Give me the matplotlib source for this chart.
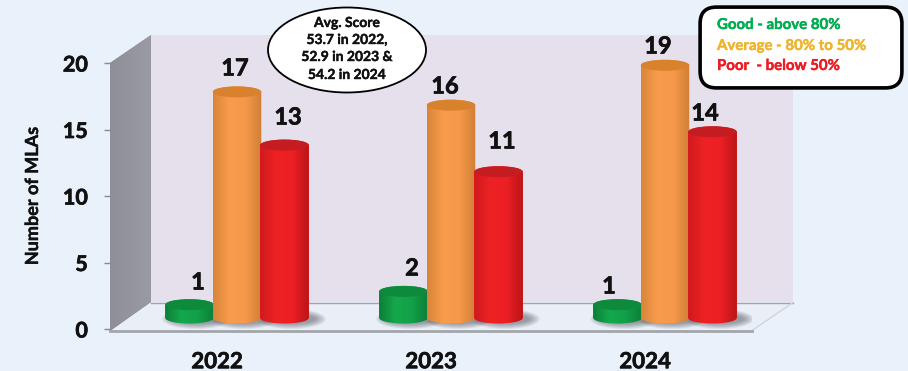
import matplotlib
matplotlib.use('Agg')
import matplotlib.pyplot as plt
import matplotlib.patheffects as pe
import numpy as np
from matplotlib.patches import Ellipse, FancyBboxPatch, Polygon, PathPatch
from matplotlib.path import Path
from matplotlib.colors import LinearSegmentedColormap

years = ['2022', '2023', '2024']
good = [1, 2, 1]
average = [17, 16, 19]
poor = [13, 11, 14]
y_ticks = [0, 5, 10, 15, 20]
note_lines = ['Avg. Score', '53.7 in 2022,', '52.9 in 2023 &', '54.2 in 2024']
legend_lines = ['Good - above 80%', 'Average - 80% to 50%', 'Poor  - below 50%']

plt.rcParams['font.family'] = ['Lato', 'DejaVu Sans']
plt.rcParams['font.weight'] = 'bold'

W, H = 908, 371
BG = '#e9f1fb'
fig = plt.figure(figsize=(W / 100, H / 100), dpi=100, facecolor=BG)
# front plane of the fake 3d box: 110-752 px wide, zero at y=329, twenty at y=63
ax = fig.add_axes([110 / W, (H - 329) / H, 642 / W, 266 / H])
ax.patch.set_alpha(0)
UX, UY = 214.0, 13.3


def px(x, y):
    return (x - 217) / UX, (329 - y) / UY


def poly(points, **kw):
    p = Polygon([px(*q) for q in points], closed=True, clip_on=False, lw=0, **kw)
    ax.add_patch(p)
    return p


def gradient(patch, colors, extent, z):
    cmap = LinearSegmentedColormap.from_list('c', colors)
    im = ax.imshow(np.linspace(0, 1, 64).reshape(1, -1), cmap=cmap, extent=extent,
                   aspect='auto', zorder=z, interpolation='bilinear')
    im.set_clip_path(patch)
    im.set_clip_box(fig.bbox)
    return im


def thick(t, width=0.5):
    # lato bold is lighter than the font in the picture
    t.set_path_effects([pe.withStroke(linewidth=width, foreground=t.get_color())])
    return t


# walls and floor
poly([(151, 35), (793, 35), (793, 302), (151, 302)], color='#e6dfec', zorder=1)
wall = poly([(110, 63), (151, 35), (151, 302), (110, 331)], color='#98989f', zorder=1)
x0, y0 = px(110, 331)
x1, y1 = px(151, 35)
gradient(wall, ['#8f8f98', '#9a9aa2'], (x0, x1, y0, y1), 1.1)
poly([(115, 329), (152, 303), (793, 303), (752, 329)], color='#e9eff6', zorder=1.2)
ax.plot(*zip(px(151, 302.5), px(793, 302.5)), color='#a89fa8', lw=1, zorder=1.3, clip_on=False)
ax.plot(*zip(px(752, 330.5), px(793, 302.5)), color='#d0d4da', lw=1, zorder=1.3, clip_on=False)
ax.plot(*zip(px(110, 330.5), px(752, 330.5)), color='#a3a5aa', lw=2, zorder=1.3, clip_on=False)

DX = 20 / UX  # bars sit back from the tick position
BASE = (329 - 318) / UY
BAR_W = 48.5 / UX
CAP_H = 11 / UY
series = [
    (good, -47.5 / UX, ['#0c7f38', '#14a84c', '#12a048', '#0c7f38'], '#0e8a3d'),
    (average, 0, ['#d8853a', '#f99c4c', '#f7984a', '#cf7f35'], '#d9822e'),
    (poor, 47.5 / UX, ['#d01a1e', '#ee2224', '#ec1f24', '#bb1519'], '#c41c20'),
]
pos = np.arange(len(years))
z = 3
for vals, shift, shades, cap in series:
    bars = ax.bar(pos + DX + shift, vals, BAR_W, bottom=BASE, color=shades[1], zorder=z, clip_on=False)
    for b in bars:
        left, right = b.get_x(), b.get_x() + b.get_width()
        cx = (left + right) / 2
        top = b.get_y() + b.get_height()
        # soft shadow on the floor
        for k in range(10):
            ax.add_patch(Ellipse((cx + 7 / UX, BASE - 1 / UY), BAR_W * (1.42 - k * 0.05), (20 - k * 1.2) / UY,
                                 color='#555560', alpha=0.07, lw=0, zorder=2))
        t = np.linspace(np.pi, 2 * np.pi, 40)
        low = np.c_[cx + BAR_W / 2 * np.cos(t), BASE + CAP_H / 2 * np.sin(t)]
        up = np.c_[cx - BAR_W / 2 * np.cos(t), top - CAP_H / 2 * np.sin(t)]
        verts = np.vstack([low, up, low[:1]])
        codes = [Path.MOVETO] + [Path.LINETO] * (len(verts) - 2) + [Path.CLOSEPOLY]
        body = PathPatch(Path(verts, codes), fc='none', ec='none', zorder=z + 0.1, clip_on=False)
        ax.add_patch(body)
        gradient(body, shades, (left, right, BASE - CAP_H, top + CAP_H), z + 0.1)
        ax.add_patch(Ellipse((cx, top), BAR_W, CAP_H, color=cap, lw=0, zorder=z + 0.2, clip_on=False))
    z += 1

# data labels, nudged by hand as in the original
label_xy = [(198, 282), (235, 68), (288, 117), (412, 268), (445, 86), (502, 141), (609, 286), (658, 46), (705, 113)]
all_vals = [good[0], average[0], poor[0], good[1], average[1], poor[1], good[2], average[2], poor[2]]
for v, (lx, ly) in zip(all_vals, label_xy):
    thick(ax.text(*px(lx, ly), str(v), ha='center', va='center', fontsize=17, color='#111111', zorder=10))

# score bubble
ax.add_patch(Ellipse(px(347, 50), 158 / UX, 85 / UY, fc='white', ec='black', lw=1.3, zorder=11, clip_on=False))
for line, ly in zip(note_lines, [23, 40, 57, 75]):
    thick(ax.text(*px(347, ly), line, ha='center', va='center', fontsize=10, color='#111111', zorder=12), 0.3)

# legend box, drawn in figure pixels
box = FancyBboxPatch((708 / W, (H - 80) / H), 186 / W, 65 / H, transform=fig.transFigure,
                     boxstyle='round,pad=0,rounding_size=0.012', mutation_aspect=W / H,
                     fc='white', ec='black', lw=2.6, zorder=13, clip_on=False)
box.set_boxstyle('round,pad=0.0087,rounding_size=0.018')
ax.add_patch(box)
for line, col, ly in zip(legend_lines, ['#00ad50', '#eeb42c', '#ec1c24'], [25, 46, 66]):
    thick(ax.text(*px(717, ly), line, ha='left', va='center', fontsize=10.8, color=col, zorder=14), 0.3)

ax.set_xlim(-0.5, 2.5)
ax.set_ylim(0, 20)
ax.set_xticks(pos, years)
ax.set_yticks(y_ticks)
for s in ax.spines.values():
    s.set_visible(False)
ax.tick_params(axis='x', length=0, pad=16, labelsize=16, labelcolor='#111111')
ax.tick_params(axis='y', length=4, width=1, color='#8a8a90', pad=12, labelsize=15.5, labelcolor='#111111')
for t in ax.get_xticklabels() + ax.get_yticklabels():
    thick(t)
ax.set_ylabel('Number of MLAs', fontsize=13, fontweight='bold', color='#111111')
thick(ax.yaxis.label, 0.3)
ax.yaxis.set_label_coords((41 - 110) / 642, 0.5)

fig.savefig('out.png', dpi=100, facecolor=BG)
